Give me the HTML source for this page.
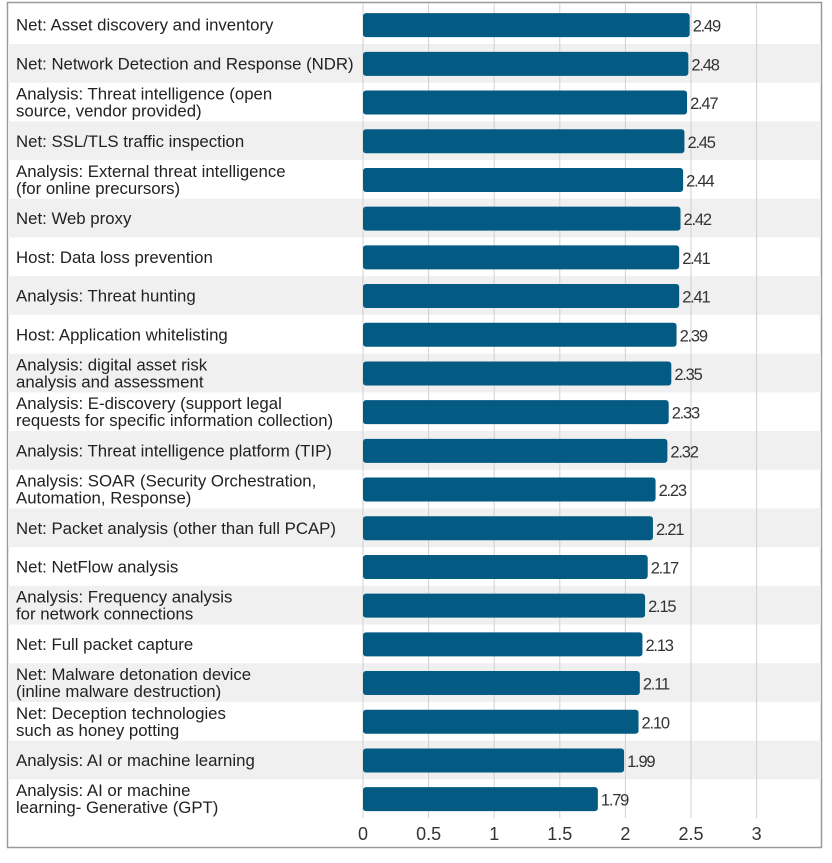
<!DOCTYPE html>
<html><head><meta charset="utf-8"><style>
body{margin:0;background:#fff;width:832px;height:858px;overflow:hidden;font-family:"Liberation Sans",sans-serif}
svg text{font-family:"Liberation Sans",sans-serif}
</style></head><body>
<svg id="chart" width="832" height="858" xmlns="http://www.w3.org/2000/svg"></svg>
<script>
const categories=["Net: Asset discovery and inventory","Net: Network Detection and Response (NDR)","Analysis: Threat intelligence (open|source, vendor provided)","Net: SSL/TLS traffic inspection","Analysis: External threat intelligence|(for online precursors)","Net: Web proxy","Host: Data loss prevention","Analysis: Threat hunting","Host: Application whitelisting","Analysis: digital asset risk|analysis and assessment","Analysis: E-discovery (support legal|requests for specific information collection)","Analysis: Threat intelligence platform (TIP)","Analysis: SOAR (Security Orchestration,|Automation, Response)","Net: Packet analysis (other than full PCAP)","Net: NetFlow analysis","Analysis: Frequency analysis|for network connections","Net: Full packet capture","Net: Malware detonation device|(inline malware destruction)","Net: Deception technologies|such as honey potting","Analysis: AI or machine learning","Analysis: AI or machine|learning- Generative (GPT)"];
const values=[2.49,2.48,2.47,2.45,2.44,2.42,2.41,2.41,2.39,2.35,2.33,2.32,2.23,2.21,2.17,2.15,2.13,2.11,2.10,1.99,1.79];
const ticks=[0,0.5,1,1.5,2,2.5,3];
const tickLabels=["0","0.5","1","1.5","2","2.5","3"];
const svg=document.getElementById('chart');const NS="http://www.w3.org/2000/svg";
const x0=363,unit=131.2,top0=5.3,rowH=38.7;
const xs=v=>x0+v*unit;
function mk(t,a,p){const e=document.createElementNS(NS,t);for(const k in a)e.setAttribute(k,a[k]);(p||svg).appendChild(e);return e;}
const frame=mk('rect',{x:7.5,y:2.5,width:814,height:845,fill:'#fff',stroke:'#999','stroke-width':1.5});


categories.forEach((c,i)=>{if(i%2==1){const r=mk('rect',{x:8,y:top0+i*rowH,width:813,height:rowH,fill:'#f0f0f0'});

}});
ticks.forEach((t,i)=>{const l=mk('line',{x1:xs(t),x2:xs(t),y1:3,y2:818,stroke:'#d0d0d0','stroke-width':1});


const tx=mk('text',{x:xs(t),y:840,'text-anchor':'middle','font-size':18,fill:'#333'});tx.textContent=tickLabels[i];

});
categories.forEach((c,i)=>{const cy=top0+i*rowH+rowH/2;const lines=c.split('|');
const t=mk('text',{x:16,'font-size':16.8,fill:'#222'});


lines.forEach((s,j)=>{const sp=mk('tspan',{x:16,y:lines.length==1?cy+6:cy-2.5+j*17},t);sp.textContent=s;});
const b=mk('rect',{x:x0,y:cy-11.5,width:xs(values[i])-x0,height:24,rx:3,fill:'#035a82'});


const v=mk('text',{x:xs(values[i])+3,y:cy+7,'font-size':16.5,fill:'#333','letter-spacing':'-1.2'});v.textContent=values[i].toFixed(2);

});
</script></body></html>
